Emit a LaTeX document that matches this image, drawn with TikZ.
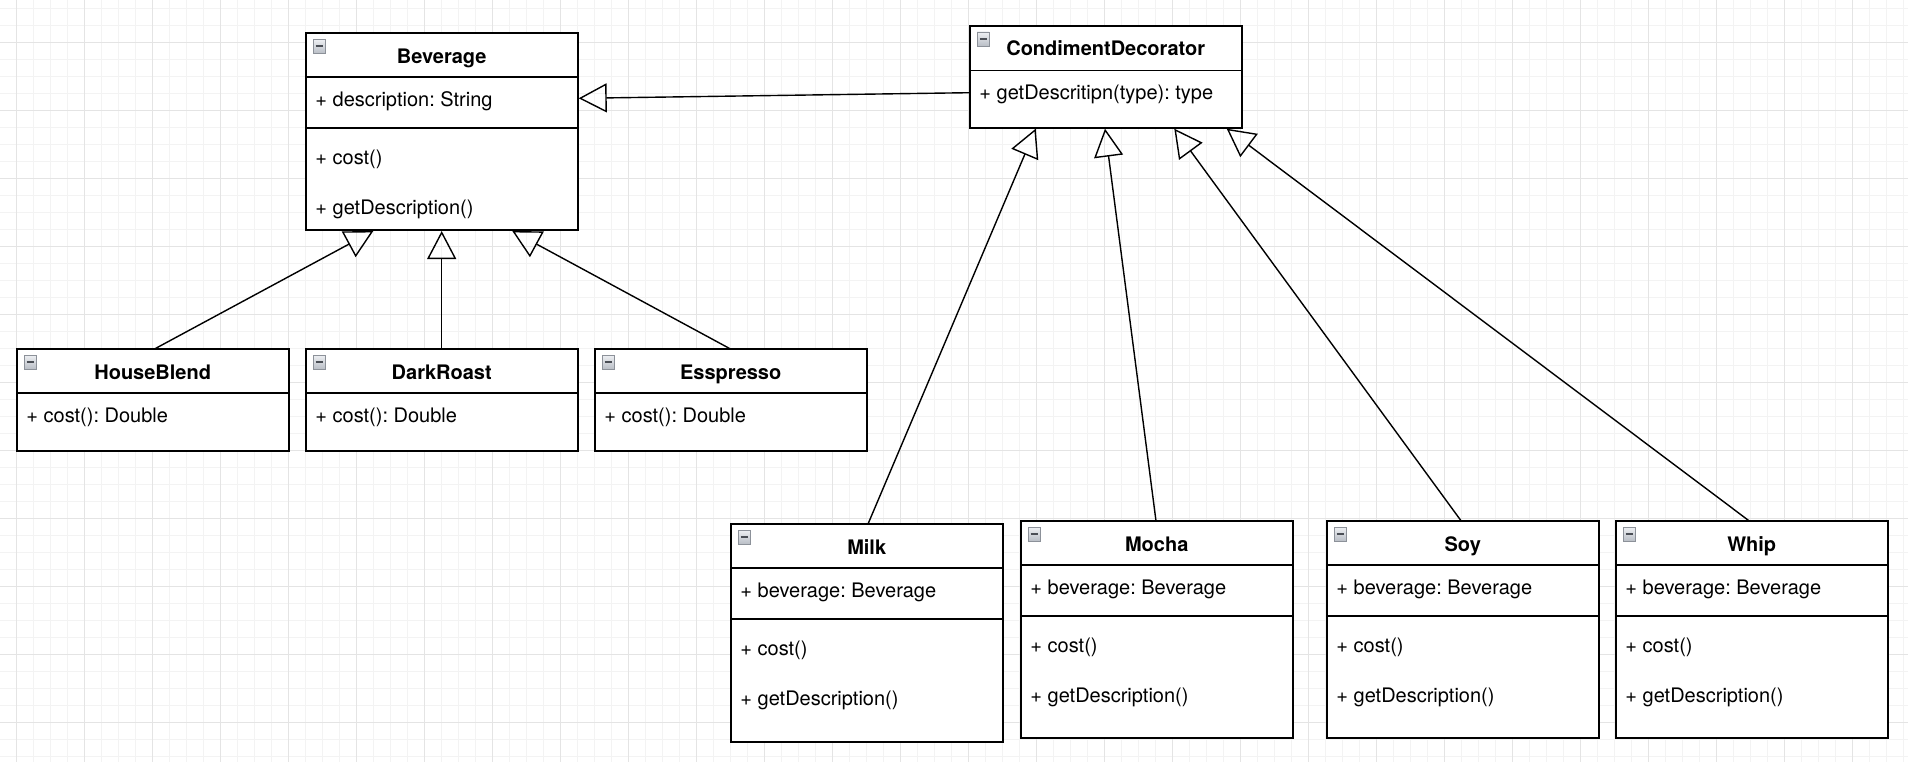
\documentclass[tikz,border=0pt]{standalone}
\usepackage{fontspec}
\setmainfont{TeX Gyre Heros}
\usetikzlibrary{arrows.meta,calc}
\frenchspacing
\definecolor{gridminor}{HTML}{F3F3F3}
\definecolor{gridmajor}{HTML}{E4E4E4}
\definecolor{icontop}{HTML}{EEF0F3}
\definecolor{iconbot}{HTML}{B9BEC6}
\definecolor{iconborder}{HTML}{8C9199}
\definecolor{iconbar}{HTML}{4A4E55}
\begin{document}
\begin{tikzpicture}[x=1pt,y=-1pt,
  cls/.style={draw=black, line width=1.9pt, fill=white, minimum width=272pt,
    inner sep=0pt, outer sep=0pt, anchor=north west},
  sepline/.style={draw=black, line width=1.9pt},
  ttl/.style={font=\fontsize{20}{24}\selectfont\bfseries, anchor=base, inner sep=0pt},
  mem/.style={font=\fontsize{20}{24}\selectfont, anchor=base west, inner sep=0pt},
  inh/.style={draw=black, line width=1.4pt, -{Triangle[open,length=28pt,width=29pt]}},
  gminor/.style={draw=gridminor, line width=1pt},
  gmajor/.style={draw=gridmajor, line width=1.3pt},
  clsicon/.pic={
    \shade[top color=icontop, bottom color=iconbot, draw=iconborder, line width=0.7pt]
      (0,0) rectangle (12,14);
    \draw[iconbar, line width=2pt] (2.5,7) -- (9.5,7);
  }
]
\useasboundingbox (0,0) rectangle (1908,762);
\fill[white] (0,0) rectangle (1908,762);
% grid
\foreach \i in {-1,...,112} { \draw[gminor] ({16.7+17*\i},0) -- ({16.7+17*\i},762); }
\foreach \j in {0,...,44} { \draw[gminor] (0,{8.3+17*\j}) -- (1908,{8.3+17*\j}); }
\foreach \i in {0,...,27} { \draw[gmajor] ({16.7+68*\i},0) -- ({16.7+68*\i},762); }
\foreach \j in {0,...,10} { \draw[gmajor] (0,{42.3+68*\j}) -- (1908,{42.3+68*\j}); }

% ---------- Beverage
\node[cls, minimum height=196.7pt] (bev) at (305.7,33.3) {};
\draw[sepline] ($(bev.north west)+(0,44)$) -- ($(bev.north east)+(0,44)$);
\draw[sepline] ($(bev.north west)+(0,95)$) -- ($(bev.north east)+(0,95)$);
\pic at ($(bev.north west)+(7.5,6)$) {clsicon};
\node[ttl] (bevT) at ($(bev.north)+(0,30)$) {Beverage};
\node[mem] (bevA) at ($(bev.north west)+(9.5,44+29.5)$) {+ description: String};
\node[mem] (bevM1) at ($(bev.north west)+(9.5,95+36)$) {+ cost()};
\node[mem] (bevM2) at ($(bev.north west)+(9.5,95+86.5)$) {+ getDescription()};

% ---------- CondimentDecorator
\node[cls, minimum height=101.7pt] (cd) at (969.7,26) {};
\draw[sepline] ($(cd.north west)+(0,44.5)$) -- ($(cd.north east)+(0,44.5)$);
\pic at ($(cd.north west)+(7.5,6)$) {clsicon};
\node[ttl] (cdT) at ($(cd.north)+(0,30)$) {CondimentDecorator};
\node[mem] (cdA) at ($(cd.north west)+(9.5,44.5+29.5)$) {+ getDescritipn(type): type};

% ---------- concrete beverages
\foreach \n/\x/\t in {hb/16.7/HouseBlend, dr/305.7/DarkRoast, es/594.7/Esspresso}{
  \node[cls, minimum height=101.7pt] (\n) at (\x,349) {};
  \draw[sepline] ($(\n.north west)+(0,43.7)$) -- ($(\n.north east)+(0,43.7)$);
  \pic at ($(\n.north west)+(7.5,6)$) {clsicon};
  \node[ttl] (\n T) at ($(\n.north)+(0,30)$) {\t};
  \node[mem] (\n A) at ($(\n.north west)+(9.5,43.7+29.5)$) {+ cost(): Double};
}

% ---------- condiments
\foreach \n/\x/\y/\h/\sa/\sb/\t in {milk/730.7/524/218/44.3/95.3/Milk,
    mocha/1020.7/521/217.3/44/95/Mocha,
    soy/1326.7/521/217.3/44/95/Soy,
    whip/1615.7/521/217.3/44/95/Whip}{
  \node[cls, minimum height=\h pt] (\n) at (\x,\y) {};
  \draw[sepline] ($(\n.north west)+(0,\sa)$) -- ($(\n.north east)+(0,\sa)$);
  \draw[sepline] ($(\n.north west)+(0,\sb)$) -- ($(\n.north east)+(0,\sb)$);
  \pic at ($(\n.north west)+(7.5,6)$) {clsicon};
  \node[ttl] (\n T) at ($(\n.north)+(0,30)$) {\t};
  \node[mem] (\n A) at ($(\n.north west)+(9.5,\sa+29.5)$) {+ beverage: Beverage};
  \node[mem] (\n M1) at ($(\n.north west)+(9.5,\sb+36)$) {+ cost()};
  \node[mem] (\n M2) at ($(\n.north west)+(9.5,\sb+86.5)$) {+ getDescription()};
}

% ---------- inheritance connectors
\draw[inh] ($(cd.north west)+(0,66.7)$) -- ($(bev.north east)+(1,65)$);
\draw[inh] ($(hb.north)+(1.8,0)$) -- ($(bev.south west)+(67.6,1)$);
\draw[inh] (dr.north) -- ($(bev.south)+(0,1)$);
\draw[inh] ($(es.north)+(-0.2,0)$) -- ($(bev.south west)+(206.6,1)$);
\draw[inh] ($(milk.north)+(1.3,0)$) -- ($(cd.south west)+(66,1)$);
\draw[inh] ($(mocha.north)+(-0.7,0)$) -- ($(cd.south west)+(135.3,1)$);
\draw[inh] ($(soy.north)+(-1.5,0)$) -- ($(cd.south west)+(204.6,1)$);
\draw[inh] ($(whip.north)+(-2.4,0)$) -- ($(cd.south west)+(257,1)$);
\end{tikzpicture}
\end{document}
